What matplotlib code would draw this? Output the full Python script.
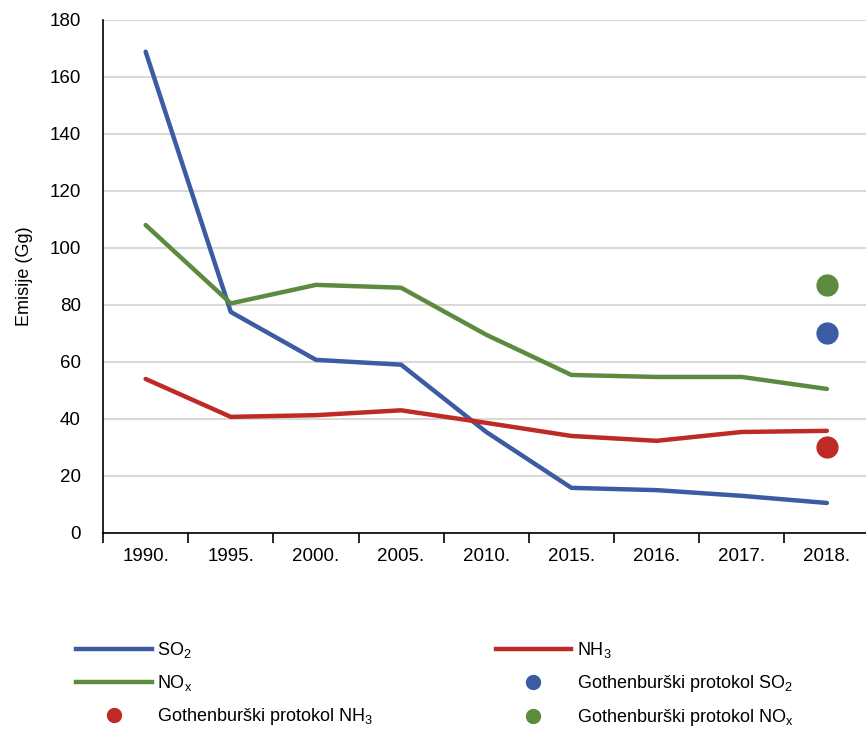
import matplotlib
matplotlib.use('Agg')
from matplotlib import pyplot as plt
from matplotlib.lines import Line2D

# podaci
godine = ['1990.', '1995.', '2000.', '2005.', '2010.', '2015.', '2016.', '2017.', '2018.']
so2 = [168.8, 77.5, 60.7, 59.0, 35.4, 15.8, 15.0, 13.0, 10.5]
nox = [108.0, 80.5, 87.0, 86.0, 69.5, 55.4, 54.7, 54.7, 50.5]
nh3 = [54.0, 40.7, 41.3, 43.0, 38.6, 34.0, 32.3, 35.4, 35.8]
# Gothenburški protokol (ciljevi za 2018.)
goth_so2 = 70
goth_nh3 = 30
goth_nox = 87

plava = '#3B5BA3'
crvena = '#BE2A26'
zelena = '#5C8A3E'

plt.rcParams['font.family'] = ['Liberation Sans', 'DejaVu Sans']
plt.rcParams['mathtext.fontset'] = 'custom'
plt.rcParams['mathtext.rm'] = 'Liberation Sans'
plt.rcParams['mathtext.it'] = 'Liberation Sans'

fig = plt.figure(figsize=(8.66, 7.31), dpi=100)
ax = fig.add_axes([0.119, 0.271, 0.885, 0.702])

x = list(range(len(godine)))
ax.plot(x, so2, color=plava, lw=3.2, solid_capstyle='round')
ax.plot(x, nh3, color=crvena, lw=3.2, solid_capstyle='round')
ax.plot(x, nox, color=zelena, lw=3.2, solid_capstyle='round')
ax.plot(x[-1], goth_so2, 'o', color=plava, ms=15)
ax.plot(x[-1], goth_nh3, 'o', color=crvena, ms=15)
ax.plot(x[-1], goth_nox, 'o', color=zelena, ms=15)

ax.set_xlim(-0.5, len(godine) - 0.5)
ax.set_ylim(0, 180)
ax.set_yticks(range(0, 181, 20))
ax.set_xticks(x)
ax.set_xticklabels(godine)
ax.set_xticks([k - 0.5 for k in range(len(godine) + 1)], minor=True)
ax.tick_params(axis='x', which='major', length=0, pad=11, labelsize=13.5)
ax.tick_params(axis='x', which='minor', length=7, width=1.2, direction='out')
ax.tick_params(axis='y', length=0, pad=16, labelsize=13.5)
ax.grid(axis='y', color='#d9d9d9', lw=1.5)
ax.set_axisbelow(True)
for s in ['top', 'right']:
    ax.spines[s].set_visible(False)
ax.spines['left'].set_linewidth(1.2)
ax.spines['bottom'].set_linewidth(1.2)
ax.set_ylabel('Emisije (Gg)', fontsize=13, labelpad=12)

# legenda
h = [
    Line2D([], [], color=plava, lw=3.2),
    Line2D([], [], color=zelena, lw=3.2),
    Line2D([], [], ls='', marker='o', color=crvena, ms=10),
    Line2D([], [], color=crvena, lw=3.2),
    Line2D([], [], ls='', marker='o', color=plava, ms=10),
    Line2D([], [], ls='', marker='o', color=zelena, ms=10),
]
lab = ['SO$_2$', 'NO$_x$', 'Gothenburški protokol NH$_3$',
       'NH$_3$', 'Gothenburški protokol SO$_2$', 'Gothenburški protokol NO$_x$']
fig.legend(h, lab, loc='lower left', bbox_to_anchor=(0.075, -0.011), ncol=2,
           frameon=False, fontsize=13, handlelength=4.2, columnspacing=6.8,
           labelspacing=0.72, handletextpad=0.3, borderpad=0.1)

fig.savefig('out.png', dpi=100)
